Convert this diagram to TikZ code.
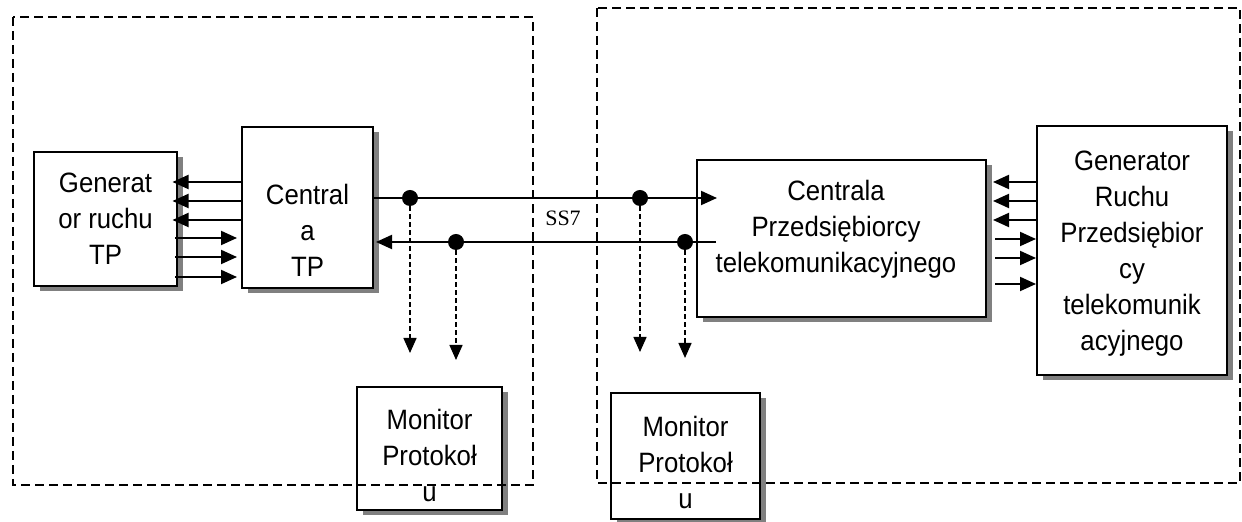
\documentclass[tikz,border=0pt]{standalone}
\usepackage{fontspec}
\setmainfont[FakeStretch=0.92]{Liberation Sans}
\newfontfamily\szeryf{Liberation Serif}
\usetikzlibrary{arrows.meta, positioning, shadows}
\definecolor{cien}{RGB}{128,128,128}

\begin{document}
\begin{tikzpicture}[x=0.5pt, y=-0.5pt,
  blok/.style={draw, line width=1pt, fill=white, inner sep=0pt, align=center, font=\fontsize{14}{18}\selectfont,
    drop shadow={shadow xshift=2.75pt, shadow yshift=-2.75pt, fill=cien, opacity=1}},
  tekst/.style={align=center, font=\fontsize{14}{18}\selectfont, inner sep=0pt},
  pijl/.style={-{Triangle[length=8pt, width=7pt]}, line width=1pt},
  sonda/.style={-{Triangle[length=7.5pt, width=6.5pt]}, line width=0.75pt, dash pattern=on 2.5pt off 1.5pt},
  kropka/.style={circle, fill=black, inner sep=0pt, minimum size=8pt},
  ramka/.style={line width=1pt, dash pattern=on 4.5pt off 2.5pt}]
  \useasboundingbox (0,0) rectangle (1242,522);

  % Bloki
  \node[blok, minimum width=71.5pt, minimum height=67pt] (genTP) at (105.5,219) {Generat\\or ruchu\\TP};
  \node[blok, minimum width=65.5pt, minimum height=80.5pt,
    label={[tekst, yshift=-11.25pt]center:{Central\\a\\TP}}] (centTP) at (307.5,207.5) {};
  \node[blok, minimum width=144.5pt, minimum height=78.5pt,
    label={[tekst, xshift=-2.75pt, yshift=4.75pt]center:{Centrala\\Przedsiębiorcy\\telekomunikacyjnego}}] (centPT) at (841.5,238.5) {};
  \node[blok, minimum width=95pt, minimum height=124.5pt,
    label={[tekst, yshift=-1.75pt]center:{Generator\\Ruchu\\Przedsiębior\\cy\\telekomunik\\acyjnego}}] (genPT) at (1132,250.5) {};
  \node[blok, minimum width=72.5pt, minimum height=61.5pt,
    label={[tekst, yshift=-3.25pt]center:{Monitor\\Protokoł\\u}}] (monL) at (429.5,448.5) {};
  \node[blok, minimum width=74.5pt, minimum height=63pt,
    label={[tekst, yshift=-3pt]center:{Monitor\\Protokoł\\u}}] (monR) at (685.5,456) {};

  % Generator TP <-> Centrala TP
  \draw[pijl, shorten >=-2.75pt] (centTP.west |- 0,182) -- (genTP.east |- 0,182);
  \draw[pijl, shorten >=-2.75pt] (centTP.west |- 0,201) -- (genTP.east |- 0,201);
  \draw[pijl, shorten >=-2.75pt] (centTP.west |- 0,220) -- (genTP.east |- 0,220);
  \draw[pijl, shorten <=-1.5pt, shorten >=2pt] (genTP.east |- 0,238) -- (centTP.west |- 0,238);
  \draw[pijl, shorten <=-1.5pt, shorten >=2pt] (genTP.east |- 0,257) -- (centTP.west |- 0,257);
  \draw[pijl, shorten <=-1.5pt, shorten >=2pt] (genTP.east |- 0,277) -- (centTP.west |- 0,277);

  % Generator PT <-> Centrala PT
  \draw[pijl, shorten >=3pt] (genPT.west |- 0,182) -- (centPT.east |- 0,182);
  \draw[pijl, shorten >=3pt] (genPT.west |- 0,201) -- (centPT.east |- 0,201);
  \draw[pijl, shorten >=3pt] (genPT.west |- 0,220) -- (centPT.east |- 0,220);
  \draw[pijl, shorten <=4pt] (centPT.east |- 0,239) -- (genPT.west |- 0,239);
  \draw[pijl, shorten <=4pt] (centPT.east |- 0,258) -- (genPT.west |- 0,258);
  \draw[pijl, shorten <=4pt] (centPT.east |- 0,284) -- (genPT.west |- 0,284);

  % SS7
  \draw[pijl, shorten >=-10.5pt] (centTP.east |- 0,198) -- (centPT.west |- 0,198);
  \draw[pijl, shorten <=-10pt, shorten >=1pt] (centPT.west |- 0,242) -- (centTP.east |- 0,242);
  \node[font=\szeryf\fontsize{11}{13}\selectfont] (ss7) at (563,218) {SS7};

  % Sondy monitora
  \node[kropka] (k1) at (410,198) {};
  \node[kropka] (k2) at (456,242) {};
  \node[kropka] (k3) at (640,198) {};
  \node[kropka] (k4) at (685,242) {};
  \coordinate (s1) at (410,353);
  \coordinate (s2) at (456,360);
  \coordinate (s3) at (640,352);
  \coordinate (s4) at (685,358);
  \draw[sonda] (k1) -- (s1);
  \draw[sonda] (k2) -- (s2);
  \draw[sonda] (k3) -- (s3);
  \draw[sonda] (k4) -- (s4);

  % Obszary
  \draw[ramka] (13,17) rectangle (533,485);
  \draw[ramka] (597,8) rectangle (1240,483);
\end{tikzpicture}
\end{document}
